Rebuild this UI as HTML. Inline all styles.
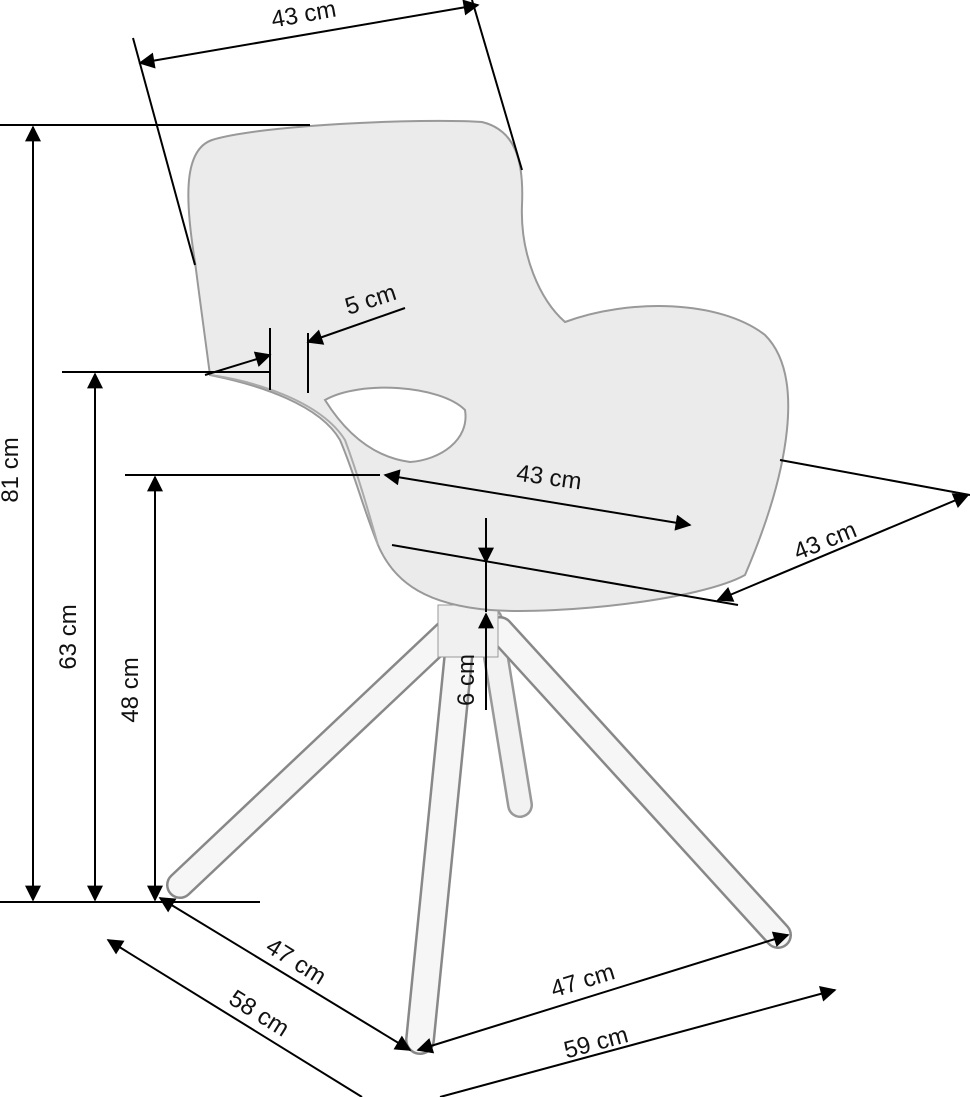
<!DOCTYPE html>
<html><head><meta charset="utf-8"><style>
html,body{margin:0;padding:0;background:#fff;}
svg{display:block}
text{font-family:"Liberation Sans",sans-serif;font-size:24px;fill:#111}
</style></head><body>
<svg width="970" height="1097" viewBox="0 0 970 1097" xmlns="http://www.w3.org/2000/svg">
<defs>
<marker id="b" viewBox="0 0 10 10" refX="9" refY="5" markerWidth="22" markerHeight="16" orient="auto-start-reverse" markerUnits="userSpaceOnUse">
<path d="M0,0 L10,5 L0,10 z" fill="#000"/></marker>
</defs>
<g stroke-linecap="round">
<line x1="490" y1="620" x2="520" y2="805" stroke="#999" stroke-width="26"/>
<line x1="490" y1="620" x2="520" y2="805" stroke="#f2f2f2" stroke-width="21"/>
<line x1="450" y1="630" x2="180" y2="885" stroke="#888" stroke-width="28"/>
<line x1="450" y1="630" x2="180" y2="885" stroke="#f6f6f6" stroke-width="23"/>
<line x1="500" y1="630" x2="778" y2="935" stroke="#888" stroke-width="28"/>
<line x1="500" y1="630" x2="778" y2="935" stroke="#f6f6f6" stroke-width="23"/>
<line x1="460" y1="640" x2="420" y2="1040" stroke="#888" stroke-width="30"/>
<line x1="460" y1="640" x2="420" y2="1040" stroke="#f6f6f6" stroke-width="25"/>
<rect x="438" y="605" width="60" height="52" fill="#f0f0f0" stroke="#999"/>
</g>
<path d="M195,262 C185,200 183,150 212,140 C260,125 420,118 482,122 C515,130 524,160 522,205 C520,255 540,300 565,322 C630,298 720,300 765,335 C805,375 790,470 745,575 C700,600 560,615 490,610 C430,605 395,585 378,545 C362,505 355,475 340,440 C320,405 260,385 210,375 C205,340 200,300 195,262 Z" fill="#ebebeb" stroke="#999" stroke-width="2"/>
<path d="M210,375 C250,380 320,400 345,440 C358,475 368,510 378,545" fill="none" stroke="#aaa" stroke-width="2"/>
<path d="M325,400 C360,380 440,385 465,410 C470,440 440,460 410,462 C380,458 350,440 325,400 Z" fill="#fff" stroke="#999" stroke-width="2"/>
<g stroke="#000" stroke-width="2" fill="none">
<line x1="0" y1="125" x2="310" y2="125"/>
<line x1="0" y1="902" x2="260" y2="902"/>
<line x1="33" y1="127" x2="33" y2="900" marker-start="url(#b)" marker-end="url(#b)"/>
<line x1="62" y1="372" x2="270" y2="372"/>
<line x1="95" y1="374" x2="95" y2="900" marker-start="url(#b)" marker-end="url(#b)"/>
<line x1="125" y1="475" x2="380" y2="475"/>
<line x1="155" y1="477" x2="155" y2="900" marker-start="url(#b)" marker-end="url(#b)"/>
<line x1="133" y1="38" x2="195" y2="265"/>
<line x1="472" y1="0" x2="522" y2="170"/>
<line x1="140" y1="63" x2="478" y2="5" marker-start="url(#b)" marker-end="url(#b)"/>
<line x1="205" y1="375" x2="270" y2="355" marker-end="url(#b)"/>
<line x1="308" y1="342" x2="405" y2="308" marker-start="url(#b)"/>
<line x1="270" y1="328" x2="270" y2="390"/>
<line x1="308" y1="333" x2="308" y2="393"/>
<line x1="385" y1="475" x2="690" y2="525" marker-start="url(#b)" marker-end="url(#b)"/>
<line x1="780" y1="460" x2="970" y2="495"/>
<line x1="392" y1="545" x2="738" y2="605"/>
<line x1="718" y1="600" x2="968" y2="495" marker-start="url(#b)" marker-end="url(#b)"/>
<line x1="486" y1="518" x2="486" y2="562" marker-end="url(#b)"/>
<line x1="486" y1="562" x2="486" y2="612"/>
<line x1="486" y1="710" x2="486" y2="614" marker-end="url(#b)"/>
<line x1="160" y1="898" x2="410" y2="1050" marker-start="url(#b)" marker-end="url(#b)"/>
<line x1="108" y1="940" x2="362" y2="1097" marker-start="url(#b)"/>
<line x1="418" y1="1050" x2="788" y2="935" marker-start="url(#b)" marker-end="url(#b)"/>
<line x1="440" y1="1097" x2="835" y2="990" marker-end="url(#b)"/>
</g>
<text transform="translate(18,470) rotate(-90)" text-anchor="middle">81 cm</text>
<text transform="translate(76,637) rotate(-90)" text-anchor="middle">63 cm</text>
<text transform="translate(138,690) rotate(-90)" text-anchor="middle">48 cm</text>
<text transform="translate(305,22) rotate(-10)" text-anchor="middle">43 cm</text>
<text transform="translate(373,307) rotate(-18)" text-anchor="middle">5 cm</text>
<text transform="translate(548,485) rotate(8)" text-anchor="middle">43 cm</text>
<text transform="translate(828,548) rotate(-22)" text-anchor="middle">43 cm</text>
<text transform="translate(474,680) rotate(-90)" text-anchor="middle">6 cm</text>
<text transform="translate(292,968) rotate(32)" text-anchor="middle">47 cm</text>
<text transform="translate(255,1020) rotate(32)" text-anchor="middle">58 cm</text>
<text transform="translate(585,988) rotate(-17)" text-anchor="middle">47 cm</text>
<text transform="translate(598,1050) rotate(-15)" text-anchor="middle">59 cm</text>
</svg>
</body></html>
